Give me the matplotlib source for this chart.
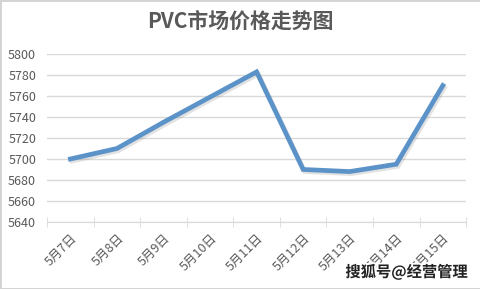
import matplotlib
matplotlib.use('Agg')
import matplotlib.pyplot as plt
import matplotlib.patheffects as pe
import numpy as np

plt.rcParams['font.family'] = ['Noto Sans CJK SC', 'DejaVu Sans']

# data
dates = ['5月7日', '5月8日', '5月9日', '5月10日', '5月11日',
         '5月12日', '5月13日', '5月14日', '5月15日']
prices = [5700, 5710, 5735, 5759, 5783, 5690, 5688, 5695, 5770]
y_ticks = [5640, 5660, 5680, 5700, 5720, 5740, 5760, 5780, 5800]

text_col = '#595959'
grid_col = '#d9d9d9'
line_col = '#5b93c9'

fig = plt.figure(figsize=(4.81, 2.89), dpi=100,
                 edgecolor='#d4d4d4', linewidth=2)
ax = fig.add_axes([0.098, 0.232, 0.871, 0.581])

x = np.arange(len(dates))
ax.plot(x, prices, color=line_col, lw=3.4, solid_joinstyle='miter',
        path_effects=[pe.SimpleLineShadow(offset=(1.2, -1.5), shadow_color='#8c8c8c', alpha=0.25),
                      pe.Normal()], zorder=3)

ax.set_xlim(-0.5, len(dates) - 0.5)
ax.set_ylim(5640, 5800)
ax.set_yticks(y_ticks)
ax.yaxis.grid(True, color=grid_col, lw=1)
ax.set_axisbelow(True)
ax.tick_params(axis='y', length=0, labelsize=9, labelcolor=text_col, pad=8)

# category boundaries get the tick marks, labels sit in the middle
ax.set_xticks(x)
ax.set_xticklabels(dates, rotation=45, ha='right', va='top',
                   rotation_mode='anchor', fontsize=9, color=text_col)
ax.set_xticks(np.arange(-0.5, len(dates)), minor=True)
ax.tick_params(axis='x', which='major', length=0, pad=7)
ax.tick_params(axis='x', which='minor', direction='inout', length=7, color=grid_col)

for s in ['top', 'right', 'left']:
    ax.spines[s].set_visible(False)
ax.spines['bottom'].set_color(grid_col)

fig.text(0.5, 0.925, 'PVC市场价格走势图', ha='center', va='center',
         fontsize=15, fontweight='bold', color=text_col)

fig.text(0.972, 0.058, '搜狐号@经营管理', ha='right', va='center',
         fontsize=11, fontweight='bold', color='#222222',
         path_effects=[pe.withStroke(linewidth=2.5, foreground='white')])

fig.savefig('out.png', dpi=100)
